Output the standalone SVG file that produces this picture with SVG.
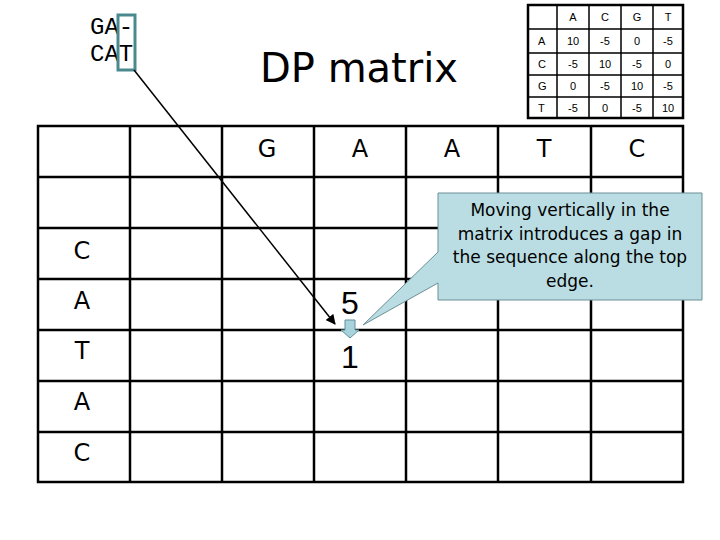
<svg xmlns="http://www.w3.org/2000/svg" width="720" height="540" viewBox="0 0 720 540">
<style>
.g{stroke:#000;stroke-width:2.5;fill:none}
.t{stroke:#000;stroke-width:1.5;fill:none}
.lbl{font-family:"DejaVu Sans",sans-serif;font-size:24px;text-anchor:middle;fill:#000}
.num{font-family:"Liberation Sans",sans-serif;font-size:32px;text-anchor:middle;fill:#000}
.st{font-family:"Liberation Sans",sans-serif;font-size:11px;text-anchor:middle;fill:#000}
</style>
<defs><marker id="ah" markerWidth="10" markerHeight="10" refX="9" refY="5" orient="auto" markerUnits="userSpaceOnUse"><path d="M0,0 L10,5 L0,10 z" fill="#000"/></marker></defs>
<rect width="720" height="540" fill="#fff"/>
<g id="alignment">
<text x="90" y="34" font-family="Liberation Mono, monospace" font-size="24" fill="#000">GA-</text>
<text x="90" y="61" font-family="Liberation Mono, monospace" font-size="24" fill="#000">CAT</text>
<rect x="118" y="15" width="17" height="55" fill="none" stroke="#4a8a8f" stroke-width="3"/>
</g>
<text id="title" x="260" y="82" font-family="DejaVu Sans,sans-serif" font-size="40">DP matrix</text>
<g id="score-table">
<rect x="528" y="5" width="155" height="113" class="g" stroke-width="3"/>
<path class="t" d="M557,5V118M589,5V118M621,5V118M653,5V118M528,29H683M528,53H683M528,75H683M528,97H683"/>
<g class="st">
<text x="573" y="21">A</text><text x="605" y="21">C</text><text x="637" y="21">G</text><text x="668" y="21">T</text>
<text x="538" y="45" text-anchor="start">A</text><text x="573" y="45">10</text><text x="605" y="45">-5</text><text x="637" y="45">0</text><text x="668" y="45">-5</text>
<text x="538" y="68" text-anchor="start">C</text><text x="573" y="68">-5</text><text x="605" y="68">10</text><text x="637" y="68">-5</text><text x="668" y="68">0</text>
<text x="538" y="90" text-anchor="start">G</text><text x="573" y="90">0</text><text x="605" y="90">-5</text><text x="637" y="90">10</text><text x="668" y="90">-5</text>
<text x="538" y="112" text-anchor="start">T</text><text x="573" y="112">-5</text><text x="605" y="112">0</text><text x="637" y="112">-5</text><text x="668" y="112">10</text>
</g>
</g>
<g id="dp-grid">
<rect x="38" y="126" width="645" height="356" class="g"/>
<path class="g" d="M130,126V482M222,126V482M314,126V482M406,126V482M498,126V482M591,126V482M38,177H683M38,228H683M38,279H683M38,330H683M38,381H683M38,432H683"/>
<g class="lbl">
<text x="267" y="157">G</text><text x="360" y="157">A</text><text x="452" y="157">A</text><text x="544" y="157">T</text><text x="637" y="157">C</text>
<text x="82" y="259">C</text><text x="82" y="309">A</text><text x="82" y="359">T</text><text x="82" y="410">A</text><text x="82" y="461">C</text>
</g>
<text class="num" x="350" y="314">5</text>
<text class="num" x="350" y="368">1</text>
</g>
<g id="connectors">
<line x1="134" y1="70" x2="335" y2="324" stroke="#000" stroke-width="1.5" marker-end="url(#ah)"/>
<path d="M345,320H355V330H359L350,338L341,330H345Z" fill="#a9d3dc" stroke="#5f8f99" stroke-width="1"/>
</g>
<g id="callout">
<path d="M438,193H702V300H438V283L363,325L438,252Z" fill="#b9dde3" stroke="#6b8f95" stroke-width="1"/>
<g font-family="DejaVu Sans,sans-serif" font-size="17" text-anchor="middle" fill="#000">
<text x="570" y="216">Moving vertically in the</text>
<text x="570" y="240">matrix introduces a gap in</text>
<text x="570" y="263">the sequence along the top</text>
<text x="570" y="287">edge.</text>
</g>
</g>
</svg>
